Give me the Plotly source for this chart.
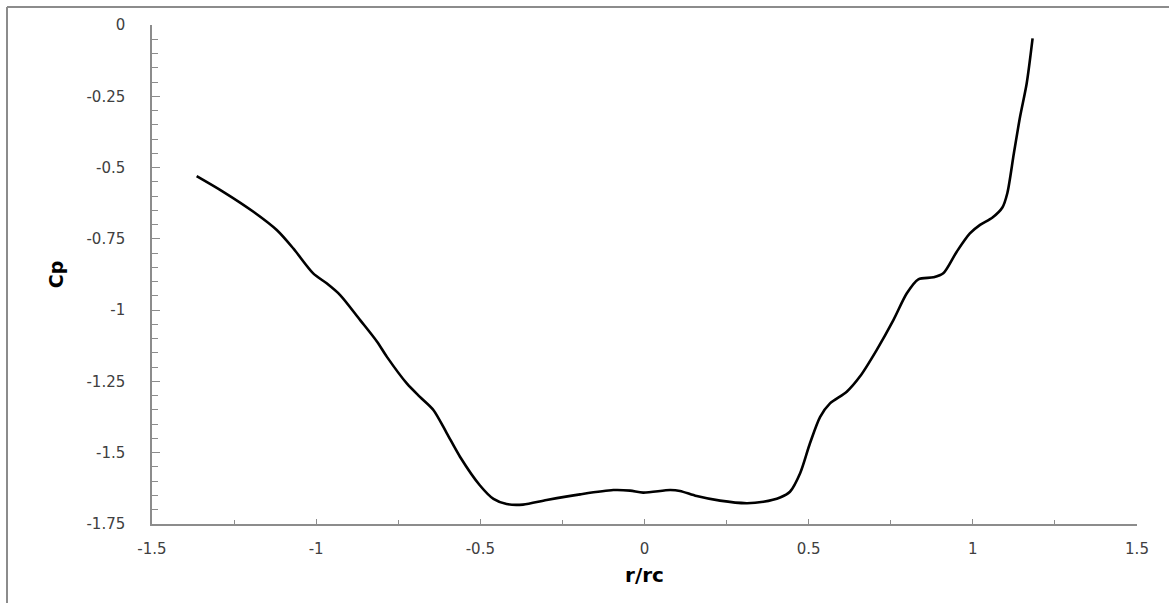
import plotly.graph_objects as go

# Data
r_rc = [-1.364, -1.283, -1.191, -1.120, -1.070, -1.009, -0.968, -0.927, -0.866,
        -0.815, -0.785, -0.724, -0.684, -0.643, -0.602, -0.562, -0.501, -0.460,
        -0.420, -0.370, -0.298, -0.196, -0.095, -0.044, -0.004, 0.078, 0.108,
        0.159, 0.230, 0.311, 0.362, 0.413, 0.443, 0.474, 0.504, 0.535, 0.565,
        0.616, 0.656, 0.707, 0.758, 0.799, 0.834, 0.880, 0.910, 0.951, 0.991,
        1.022, 1.060, 1.090, 1.105, 1.125, 1.144, 1.164, 1.182]
cp = [-0.530, -0.585, -0.655, -0.719, -0.783, -0.871, -0.906, -0.947, -1.035,
      -1.110, -1.163, -1.257, -1.304, -1.350, -1.432, -1.514, -1.615, -1.662,
      -1.680, -1.682, -1.666, -1.646, -1.631, -1.633, -1.640, -1.631, -1.634,
      -1.652, -1.668, -1.677, -1.672, -1.657, -1.637, -1.572, -1.467, -1.374,
      -1.327, -1.286, -1.233, -1.140, -1.035, -0.941, -0.892, -0.885, -0.871,
      -0.795, -0.731, -0.701, -0.675, -0.640, -0.590, -0.450, -0.321, -0.205,
      -0.047]

x_tickvals = [-1.5, -1.0, -0.5, 0.0, 0.5, 1.0, 1.5]
x_ticktext = ["-1.5", "-1", "-0.5", "0", "0.5", "1", "1.5"]
y_tickvals = [0.0, -0.25, -0.5, -0.75, -1.0, -1.25, -1.5, -1.75]
y_ticktext = ["0", "-0.25", "-0.5", "-0.75", "-1", "-1.25", "-1.5", "-1.75"]

W, H = 1169, 603
ML, MR, MT, MB = 152, 32, 25, 79
PW, PH = W - ML - MR, H - MT - MB

def px_x(p):
    return (p - ML) / PW

def px_y(p):
    return (H - MB - p) / PH

fig = go.Figure()
fig.add_trace(go.Scatter(
    x=r_rc, y=cp, mode="lines",
    line=dict(color="black", width=2.6, shape="spline", smoothing=0.8),
    showlegend=False, hoverinfo="skip"))

axis_color = "#8c8c8c"
tick_font = dict(family="DejaVu Sans", size=15, color="#404040")

fig.update_layout(
    width=W, height=H,
    margin=dict(l=ML, r=MR, t=MT, b=MB, pad=0),
    paper_bgcolor="white", plot_bgcolor="white",
    showlegend=False,
    xaxis=dict(
        range=[-1.5, 1.5], tickvals=x_tickvals, ticktext=x_ticktext,
        ticks="inside", ticklen=5, tickwidth=1, tickcolor=axis_color,
        minor=dict(ticks="inside", dtick=0.25, ticklen=4, tickcolor=axis_color, tickwidth=1),
        showline=True, linecolor=axis_color, linewidth=1.5,
        showgrid=False, zeroline=False, tickfont=tick_font,
        ticklabelstandoff=10,
        title=dict(text="<b>r/rc</b>", font=dict(family="DejaVu Sans", size=20, color="black"),
                   standoff=11),
    ),
    yaxis=dict(
        range=[-1.75, 0], tickvals=y_tickvals, ticktext=y_ticktext,
        ticks="inside", ticklen=8, tickwidth=1, tickcolor=axis_color,
        minor=dict(ticks="inside", dtick=0.05, ticklen=6, tickcolor=axis_color, tickwidth=1),
        showline=True, linecolor=axis_color, linewidth=1.5,
        showgrid=False, zeroline=False, tickfont=tick_font,
        ticklabelstandoff=22,
        title=dict(text="<b>Cp</b>", font=dict(family="DejaVu Sans", size=19, color="black"),
                   standoff=18),
    ),
    shapes=[
        dict(type="line", xref="paper", yref="paper",
             x0=px_x(7), x1=px_x(7), y0=px_y(7), y1=px_y(H + 5),
             line=dict(color="#8c8c8c", width=2)),
        dict(type="line", xref="paper", yref="paper",
             x0=px_x(7), x1=px_x(W + 5), y0=px_y(7), y1=px_y(7),
             line=dict(color="#8c8c8c", width=2)),
    ],
)

fig.write_html("out.html")
